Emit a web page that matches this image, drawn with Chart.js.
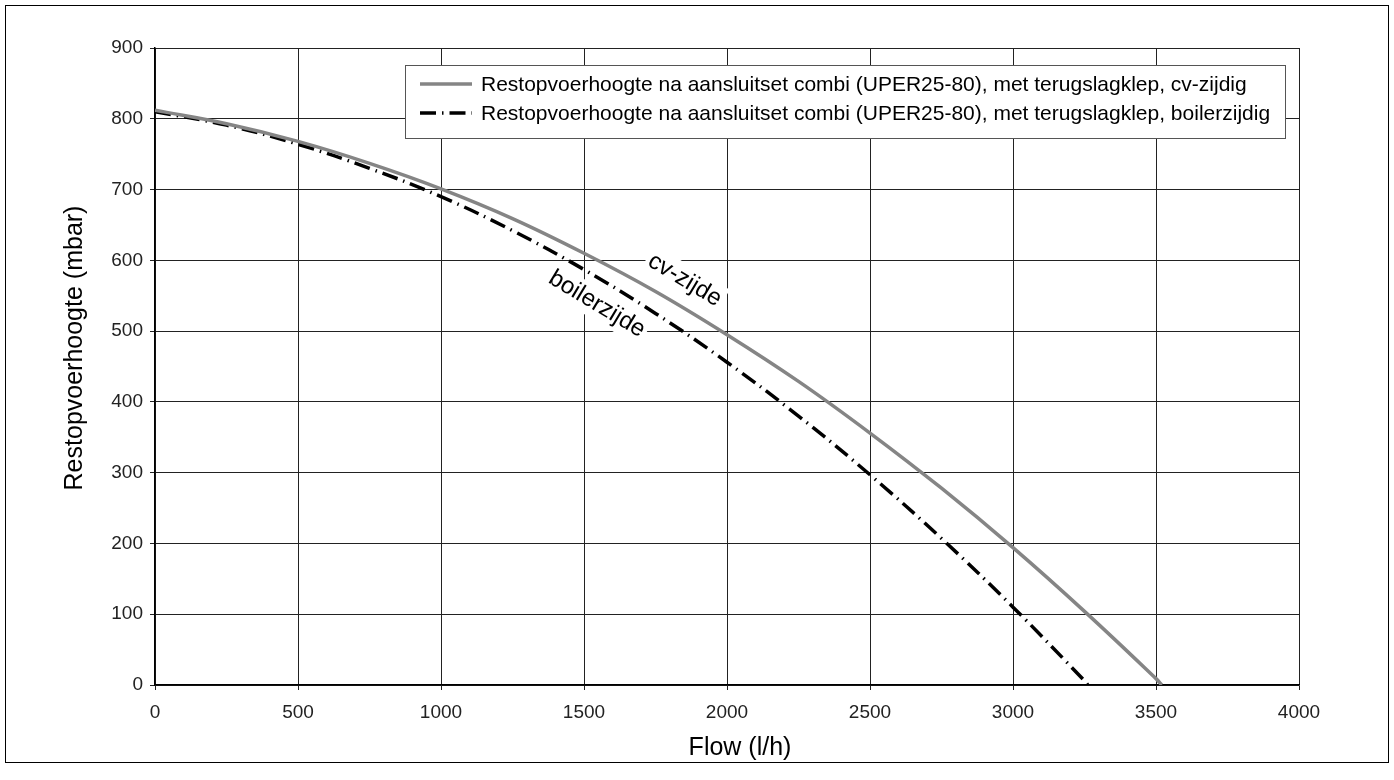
<!DOCTYPE html>
<html>
<head>
<meta charset="utf-8">
<script src="https://cdn.jsdelivr.net/npm/chart.js@4.4.1/dist/chart.umd.min.js"></script>
<style>
  html, body { margin: 0; padding: 0; background: #fff; }
  #wrap { width: 1394px; height: 780px; }
</style>
</head>
<body>
<div id="wrap"><canvas id="myChart" width="1394" height="780"></canvas></div>
<script>
// values
const flowCv = [0, 250, 500, 750, 1000, 1250, 1500, 1750, 2000, 2250, 2500, 2750, 3000, 3250, 3500, 3520];
const headCv = [812, 793, 768, 737, 701, 659, 610, 556, 495, 429, 356, 278, 194, 104, 9, 0];
const flowBoiler = [0, 250, 500, 750, 1000, 1250, 1500, 1750, 2000, 2250, 2500, 2750, 3000, 3250, 3262];
const headBoiler = [810, 791, 764, 730, 690, 642, 587, 525, 456, 380, 297, 207, 110, 6, 0];

const labelCv = 'Restopvoerhoogte na aansluitset combi (UPER25-80), met terugslagklep, cv-zijdig';
const labelBoiler = 'Restopvoerhoogte na aansluitset combi (UPER25-80), met terugslagklep, boilerzijdig';

const xTicks = [0, 500, 1000, 1500, 2000, 2500, 3000, 3500, 4000];
const yTicks = [0, 100, 200, 300, 400, 500, 600, 700, 800, 900];

const xTitle = 'Flow (l/h)';
const yTitle = 'Restopvoerhoogte (mbar)';

// text on the curves: [text, flow, head]
const curveNotes = [
    ['cv-zijde', 1852, 572],
    ['boilerzijde', 1545, 538]
];

const FONT = '"Liberation Sans", Arial, sans-serif';

const toPoints = (xs, ys) => xs.map((x, i) => ({ x: x, y: ys[i] }));

const frame = {
    id: 'frame',
    beforeDraw(chart) {
        const c = chart.ctx;
        c.save();
        c.fillStyle = '#fff';
        c.fillRect(0, 0, chart.width, chart.height);
        c.strokeStyle = '#000';
        c.lineWidth = 1;
        c.strokeRect(5.5, 5.5, 1383, 757);
        c.restore();
    },
    afterDraw(chart) {
        // axis titles
        const c = chart.ctx;
        c.save();
        c.fillStyle = '#000';
        c.font = '25px ' + FONT;
        c.textAlign = 'center';
        c.textBaseline = 'middle';
        c.fillText(xTitle, 740, 748);
        c.translate(75, 348);
        c.rotate(-Math.PI / 2);
        c.fillText(yTitle, 0, 0);
        c.restore();
    }
};

const notes = {
    id: 'notes',
    beforeDatasetsDraw(chart) {
        const c = chart.ctx;
        const xs = chart.scales.x, ys = chart.scales.y;
        c.save();
        c.font = '24px ' + FONT;
        c.textAlign = 'center';
        c.textBaseline = 'middle';
        curveNotes.forEach(n => {
            const px = xs.getPixelForValue(n[1]);
            const py = ys.getPixelForValue(n[2]);
            c.save();
            c.translate(px, py);
            c.rotate(31 * Math.PI / 180);
            const w = c.measureText(n[0]).width;
            c.fillStyle = '#fff';
            c.fillRect(-w / 2 - 3, -15, w + 6, 30);
            c.fillStyle = '#000';
            c.fillText(n[0], 0, 0);
            c.restore();
        });
        c.restore();
    }
};

const legendBox = {
    id: 'legendBox',
    afterDatasetsDraw(chart) {
        const c = chart.ctx;
        const left = 405, top = 65, w = 880, h = 73;
        c.save();
        c.fillStyle = '#fff';
        c.fillRect(left, top, w, h);
        c.strokeStyle = '#555';
        c.lineWidth = 1;
        c.strokeRect(left + 0.5, top + 0.5, w, h);
        c.font = '21px ' + FONT;
        c.textBaseline = 'middle';
        chart.data.datasets.forEach((ds, i) => {
            const y = 84 + i * 29;
            c.strokeStyle = ds.borderColor;
            c.lineWidth = ds.borderWidth;
            c.setLineDash(ds.borderDash || []);
            c.beginPath();
            c.moveTo(420, y);
            c.lineTo(472, y);
            c.stroke();
            c.setLineDash([]);
            c.fillStyle = '#000';
            c.fillText(ds.label, 481, y + 1);
        });
        c.restore();
    }
};

const ctx = document.getElementById('myChart').getContext('2d');

new Chart(ctx, {
    type: 'line',
    data: {
        datasets: [
            {
                label: labelCv,
                data: toPoints(flowCv, headCv),
                borderColor: '#858585',
                borderWidth: 3.5,
                pointRadius: 0,
                tension: 0.4,
                fill: false
            },
            {
                label: labelBoiler,
                data: toPoints(flowBoiler, headBoiler),
                borderColor: '#000',
                borderWidth: 3.5,
                borderDash: [16, 6, 1.5, 6],
                pointRadius: 0,
                tension: 0.4,
                fill: false
            }
        ]
    },
    options: {
        responsive: false,
        animation: false,
        devicePixelRatio: 1,
        layout: { padding: { top: 48, right: 95, left: 0, bottom: 0 } },
        plugins: {
            legend: { display: false },
            tooltip: { enabled: false }
        },
        scales: {
            x: {
                type: 'linear',
                min: 0,
                max: 4000,
                afterBuildTicks: s => { s.ticks = xTicks.map(v => ({ value: v })); },
                afterFit: s => { s.height = 95; },
                border: { color: '#000', width: 1.5 },
                grid: { color: '#222', lineWidth: 1, tickLength: 5, drawTicks: true },
                ticks: {
                    color: '#222',
                    font: { family: FONT, size: 19 },
                    padding: 11,
                    maxRotation: 0,
                    callback: v => String(v)
                }
            },
            y: {
                type: 'linear',
                min: 0,
                max: 900,
                afterBuildTicks: s => { s.ticks = yTicks.map(v => ({ value: v })); },
                afterFit: s => { s.width = 155; },
                border: { color: '#000', width: 1.5 },
                grid: { color: '#222', lineWidth: 1, tickLength: 5, drawTicks: true },
                ticks: {
                    color: '#222',
                    font: { family: FONT, size: 19 },
                    padding: 7,
                    callback: v => String(v)
                }
            }
        }
    },
    plugins: [frame, notes, legendBox]
});
</script>
</body>
</html>
